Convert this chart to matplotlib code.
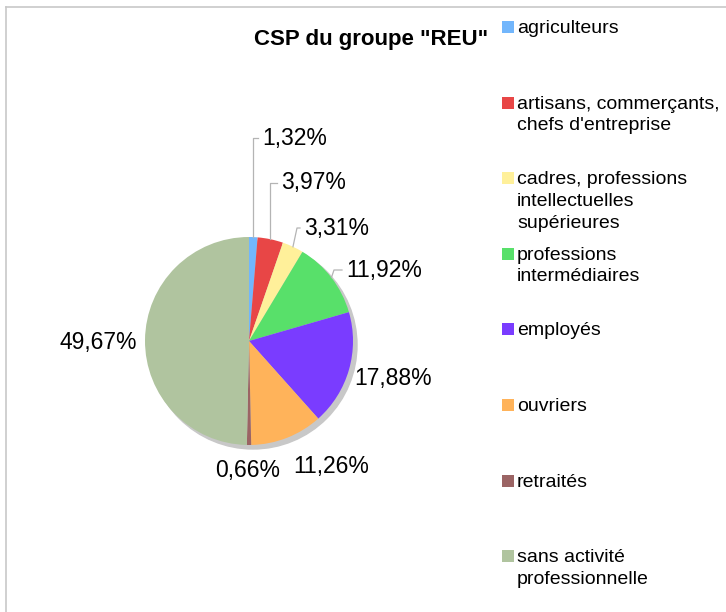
"""
Pie chart of the CSP of the "REU" group, legend drawn on the right.
"""
import matplotlib
matplotlib.use("Agg")
import numpy as np
import matplotlib.pyplot as plt
from matplotlib.patches import Circle, Rectangle

plt.rcParams['font.family'] = ['Liberation Sans', 'DejaVu Sans']

# data
categories = ["agriculteurs",
              "artisans, commerçants,\nchefs d'entreprise",
              "cadres, professions\nintellectuelles\nsupérieures",
              "professions\nintermédiaires",
              "employés",
              "ouvriers",
              "retraités",
              "sans activité\nprofessionnelle"]
values = [1.32, 3.97, 3.31, 11.92, 17.88, 11.26, 0.66, 49.67]
colors = ['#72b6fc', '#e84646', '#fff09a', '#58e06a',
          '#7a3cff', '#ffb35a', '#9b6464', '#b0c49f']
title = 'CSP du groupe "REU"'

# layout, in pixels from the top left corner
W, H = 726, 612
cx, cy, R = 249, 341, 104
# label anchor (left x, centre y) and elbow of the leader line (None = no leader)
label_pos = [(262, 138), (281, 183), (304, 228), (346, 270),
             (354, 378), (293, 466), (215, 471), (59, 342)]
elbows = [(None, 138), (None, 183), (297, 228), (334, 270),
          None, None, None, None]

fig = plt.figure(figsize=(W/100., H/100.), dpi=100)
ax = fig.add_axes([0, 0, 1, 1])

def Y(y):
    return H - y

# shadow behind the pie
ax.add_patch(Circle((cx + 4, Y(cy + 4)), R, color='#c8c8c8', zorder=0))

wedges, _ = ax.pie(values, colors=colors, startangle=90, counterclock=False,
                   center=(cx, Y(cy)), radius=R, frame=True,
                   wedgeprops=dict(linewidth=0))

for w, v, pos, elb in zip(wedges, values, label_pos, elbows):
    txt = ("%.2f%%" % v).replace(".", ",")
    ax.text(pos[0], Y(pos[1]), txt, fontsize=16.5, ha='left', va='center')
    if elb is not None:
        mid = np.deg2rad((w.theta1 + w.theta2) / 2.)
        sx, sy = cx + R*np.cos(mid), Y(cy) + R*np.sin(mid)
        ex = sx if elb[0] is None else elb[0]
        ax.plot([sx, ex, pos[0] - 4], [sy, Y(elb[1]), Y(elb[1])],
                color='#b4b4b4', lw=0.9, zorder=3)

# title
ax.text(371, Y(40), title, fontsize=16, fontweight='bold', ha='center', va='center')

# legend
for i, (lab, c) in enumerate(zip(categories, colors)):
    top = 21 + 75.6*i
    ax.add_patch(Rectangle((502, Y(top + 12)), 12, 12, color=c, lw=0))
    ax.text(517, Y(top - 1), lab, fontsize=14, ha='left', va='top', linespacing=1.36)

# frame lines on top and left
ax.plot([6, W], [Y(7), Y(7)], color='#c8c8c8', lw=1.2)
ax.plot([6, 6], [Y(7), 0], color='#c8c8c8', lw=1.2)

ax.set_xlim(0, W)
ax.set_ylim(0, H)
ax.set_axis_off()

fig.savefig("out.png", dpi=100)
